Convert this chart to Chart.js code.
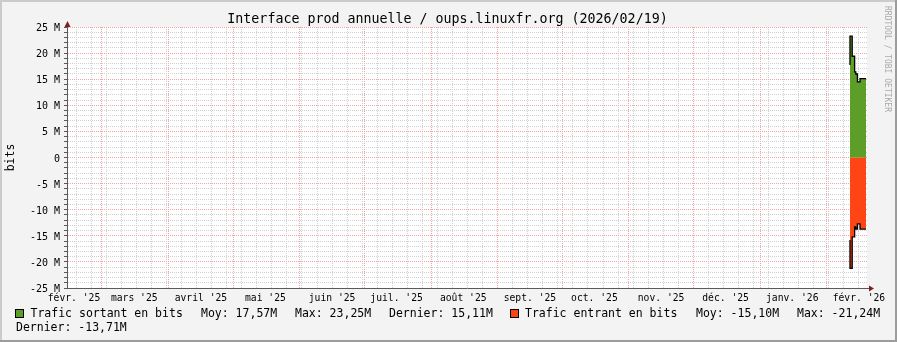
<!doctype html>
<html>
<head>
<meta charset="utf-8">
<title>Interface prod annuelle</title>
<script src="https://cdn.jsdelivr.net/npm/chart.js@4"></script>
<style>
  html, body { margin: 0; padding: 0; background: #f3f3f3; }
  canvas { display: block; }
</style>
</head>
<body>
<canvas id="graphe" width="897" height="342"></canvas>
<script>
// début de chaque palier (UTC), le dernier ferme la série
var instants = ['2026-02-11T20:00', '2026-02-12T21:00', '2026-02-14T00:00', '2026-02-14T13:00',
                '2026-02-15T07:00', '2026-02-16T12:00', '2026-02-17T10:00', '2026-02-19T07:00'];
// débits en Mbit/s
var sortant = [17.7, 23.25, 19.4, 16.4, 16.0, 14.5, 15.11, 15.11];
var entrant = [-15.8, -21.24, -15.2, -13.3, -13.7, -12.7, -13.71, -13.71];

// étiquettes de l'axe horizontal (une par mois, depuis février 2025)
var mois = ["févr. '25", "mars '25", "avril '25", "mai '25", "juin '25", "juil. '25", "août '25",
            "sept. '25", "oct. '25", "nov. '25", "déc. '25", "janv. '26", "févr. '26"];
var graduationsY = [-25, -20, -15, -10, -5, 0, 5, 10, 15, 20, 25];

// légende
var legendeSortant = ['Trafic sortant en bits', 'Moy: 17,57M', 'Max: 23,25M', 'Dernier: 15,11M'];
var legendeEntrant = ['Trafic entrant en bits', 'Moy: -15,10M', 'Max: -21,24M', 'Dernier: -13,71M'];

var titre = 'Interface prod annuelle / oups.linuxfr.org (2026/02/19)';

var JOUR = 86400000;
var debut = Date.parse('2025-02-12T17:30:00Z');
var fin = Date.parse('2026-02-19T18:00:00Z');

var vert = '#5c9e28';
var orange = '#ff4513';
var rouge = '#f2a3a3';
var gris = '#d0d0d0';
var axe = '#5a5a5a';
var police = '"DejaVu Sans Mono", monospace';

function ts(s) { return Date.parse(s + ':00Z'); }

// graduations horizontales : lundis, débuts de mois, milieux de mois (étiquettes)
var genre = {};
var texte = {};
function construireX(scale) {
    var vals = [];
    var d = new Date(debut);
    d = new Date(Date.UTC(d.getUTCFullYear(), d.getUTCMonth(), d.getUTCDate() + 1));
    for (var t = d.getTime(); t <= fin; t += JOUR) {
        var j = new Date(t);
        if (j.getUTCDate() === 1) { genre[t] = 'mois'; vals.push(t); }
        else if (j.getUTCDay() === 1) { genre[t] = 'semaine'; vals.push(t); }
    }
    mois.forEach(function (m, i) {
        var t = Date.UTC(2025, 1 + i, 16);
        if (t >= debut && t <= fin) {
            texte[t] = m;
            if (!genre[t]) { genre[t] = 'etiquette'; vals.push(t); }
        }
    });
    vals.sort(function (a, b) { return a - b; });
    scale.ticks = vals.map(function (v) { return { value: v }; });
}

var decor = {
    id: 'decor',
    beforeDraw: function (chart) {
        var ctx = chart.ctx, a = chart.chartArea, W = chart.width, H = chart.height;
        ctx.save();
        ctx.fillStyle = '#f3f3f3';
        ctx.fillRect(0, 0, W, H);
        ctx.fillStyle = '#cbcbcb';
        ctx.fillRect(0, 0, W, 2);
        ctx.fillRect(0, 0, 2, H);
        ctx.fillStyle = '#9c9c9c';
        ctx.fillRect(0, H - 2, W, 2);
        ctx.fillRect(W - 2, 0, 2, H);
        ctx.fillStyle = '#ffffff';
        ctx.fillRect(a.left, a.top, a.right - a.left, a.bottom - a.top);
        ctx.restore();
    },
    afterDraw: function (chart) {
        var ctx = chart.ctx, a = chart.chartArea;
        ctx.save();
        // titre
        ctx.fillStyle = '#000';
        ctx.font = '13.3px ' + police;
        ctx.textAlign = 'center';
        ctx.textBaseline = 'middle';
        ctx.fillText(titre, 447.5, 19.5);

        // prolongement de l'axe et flèches
        ctx.strokeStyle = axe;
        ctx.lineWidth = 1;
        ctx.beginPath();
        ctx.moveTo(a.right, a.bottom + 0.5);
        ctx.lineTo(a.right + 3, a.bottom + 0.5);
        ctx.stroke();
        ctx.fillStyle = '#7f1f1f';
        ctx.beginPath();
        ctx.moveTo(a.left + 0.5, a.top - 6);
        ctx.lineTo(a.left - 2.5, a.top);
        ctx.lineTo(a.left + 3.5, a.top);
        ctx.closePath();
        ctx.fill();
        ctx.beginPath();
        ctx.moveTo(a.right + 7, a.bottom + 0.5);
        ctx.lineTo(a.right + 2, a.bottom - 2.5);
        ctx.lineTo(a.right + 2, a.bottom + 3.5);
        ctx.closePath();
        ctx.fill();

        // légende
        ctx.font = '11.5px ' + police;
        ctx.textAlign = 'left';
        ctx.textBaseline = 'middle';
        function carre(x, y, c) {
            ctx.fillStyle = '#000';
            ctx.fillRect(x, y, 9, 9);
            ctx.fillStyle = c;
            ctx.fillRect(x + 1, y + 1, 7, 7);
        }
        carre(15, 309, vert);
        ctx.fillStyle = '#000';
        ctx.fillText(legendeSortant[0], 30.5, 314);
        ctx.fillText(legendeSortant[1], 201, 314);
        ctx.fillText(legendeSortant[2], 295, 314);
        ctx.fillText(legendeSortant[3], 389, 314);
        carre(510, 309, orange);
        ctx.fillStyle = '#000';
        ctx.fillText(legendeEntrant[0], 525, 314);
        ctx.fillText(legendeEntrant[1], 696, 314);
        ctx.fillText(legendeEntrant[2], 797, 314);
        ctx.fillText(legendeEntrant[3], 16, 328.5);

        // signature verticale
        ctx.translate(887.5, 6);
        ctx.rotate(Math.PI / 2);
        ctx.fillStyle = '#a9a9a9';
        ctx.font = '8px ' + police;
        ctx.fillText('RRDTOOL / TOBI OETIKER', 0, 0);
        ctx.restore();
    }
};

function serie(valeurs) {
    return instants.map(function (t, i) { return { x: ts(t), y: valeurs[i] }; });
}

new Chart(document.getElementById('graphe'), {
    type: 'line',
    data: {
        datasets: [
            {
                label: legendeSortant[0],
                data: serie(sortant),
                stepped: 'after',
                fill: 'origin',
                backgroundColor: vert,
                borderColor: '#000',
                borderWidth: 1.3,
                pointRadius: 0
            },
            {
                label: legendeEntrant[0],
                data: serie(entrant),
                stepped: 'after',
                fill: 'origin',
                backgroundColor: orange,
                borderColor: '#000',
                borderWidth: 1.3,
                pointRadius: 0
            }
        ]
    },
    options: {
        responsive: false,
        animation: false,
        devicePixelRatio: 1,
        layout: { padding: { left: 0, right: 30, top: 27, bottom: 34 } },
        plugins: {
            legend: { display: false },
            title: { display: false },
            tooltip: { enabled: false }
        },
        scales: {
            x: {
                type: 'linear',
                min: debut,
                max: fin,
                afterBuildTicks: construireX,
                afterFit: function (s) { s.height = 20; },
                grid: {
                    drawTicks: false,
                    color: function (c) {
                        var g = c.tick ? genre[c.tick.value] : '';
                        if (g === 'mois') return rouge;
                        if (g === 'semaine') return gris;
                        return 'rgba(0,0,0,0)';
                    }
                },
                border: { color: axe, width: 1, dash: [1, 1] },
                ticks: {
                    autoSkip: false,
                    maxRotation: 0,
                    minRotation: 0,
                    padding: 5,
                    color: '#000',
                    font: { family: police, size: 9.7 },
                    callback: function (v) { return texte[v] || ''; }
                }
            },
            y: {
                min: -25,
                max: 25,
                afterBuildTicks: function (s) {
                    var t = [];
                    for (var i = -25; i <= 25; i++) t.push({ value: i });
                    s.ticks = t;
                },
                afterFit: function (s) { s.width = 67; },
                title: {
                    display: true,
                    text: 'bits',
                    color: '#000',
                    padding: { top: 4, bottom: 0 },
                    font: { family: police, size: 11.5 }
                },
                grid: {
                    tickLength: 3,
                    tickColor: axe,
                    color: function (c) {
                        return c.tick && graduationsY.indexOf(c.tick.value) >= 0 ? rouge : gris;
                    }
                },
                border: { color: axe, width: 1, dash: [1, 1] },
                ticks: {
                    autoSkip: false,
                    padding: 4,
                    labelOffset: 1.5,
                    color: '#000',
                    font: { family: police, size: 10 },
                    callback: function (v) {
                        if (graduationsY.indexOf(v) < 0) return '';
                        return v === 0 ? '0' : v + ' M';
                    }
                }
            }
        }
    },
    plugins: [decor]
});
</script>
</body>
</html>
